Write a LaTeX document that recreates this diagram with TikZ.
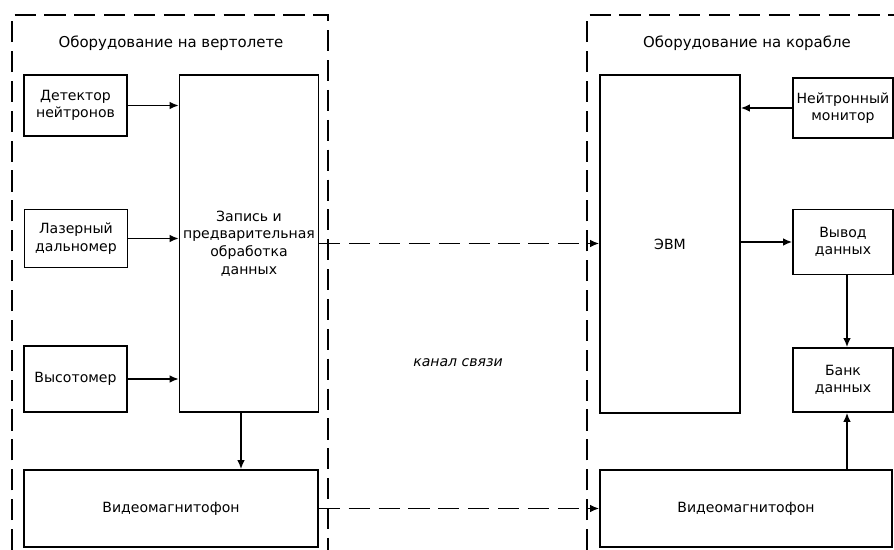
\documentclass[tikz,border=0pt]{standalone}
\usepackage{fontspec}
\setmainfont{DejaVu Sans}
\usepackage{tikz}
\usetikzlibrary{arrows.meta,positioning,calc}

\begin{document}
\begin{tikzpicture}[
  x=0.02cm,y=-0.02cm,
  every node/.style={font=\fontsize{8}{10}\selectfont},
  >={Latex[length=1.8mm,width=1.5mm]},
  block/.style={draw,line width=1pt,align=center,inner sep=2pt},
  unit/.style={block,minimum width=2.06cm},
  side/.style={block,minimum width=2.0cm},
  title/.style={font=\fontsize{8.5}{10}\selectfont},
  frame/.style={line width=0.8pt,dash pattern=on 12pt off 5pt},
  link/.style={->,line width=0.8pt},
  chan/.style={->,line width=0.8pt,dash pattern=on 12pt off 5pt}
]
\useasboundingbox (0,0) rectangle (894,550);

\draw[frame] (12,550) -- (12,15) -- (328,15) -- (328,550);
\draw[frame] (587,550) -- (587,15) -- (894,15);

\node[title] (TL) at (171,43) {Оборудование на вертолете};
\node[title] (TR) at (747,43) {Оборудование на корабле};

\node[unit,minimum height=1.22cm] (DET) at (75.5,105.5) {Детектор\\нейтронов};
\node[unit,minimum height=1.16cm] (LAS) at (76,238.5)   {Лазерный\\дальномер};
\node[unit,minimum height=1.32cm] (ALT) at (75.5,379)   {Высотомер};
\node[block,minimum width=2.76cm,minimum height=6.74cm] (REC) at (249,243.5)
  {Запись и\\предварительная\\обработка\\данных};
\node[block,minimum width=5.88cm,minimum height=1.54cm] (VL) at (171,508.5) {Видеомагнитофон};

\node[block,minimum width=2.8cm,minimum height=6.76cm] (EVM) at (670,244) {ЭВМ};
\node[side,minimum height=1.2cm]  (MON)  at (843,108) {Нейтронный\\монитор};
\node[side,minimum height=1.3cm]  (OUT)  at (843,242) {Вывод\\данных};
\node[side,minimum height=1.28cm] (BANK) at (843,380) {Банк\\данных};
\node[block,minimum width=5.84cm,minimum height=1.54cm] (VR) at (746,508.5) {Видеомагнитофон};

\node[font=\fontsize{8}{10}\selectfont\itshape] (CH) at (458,363) {канал связи};

\draw[link] (DET.east) -- (DET.east -| REC.west);
\draw[link] (LAS.east) -- (LAS.east -| REC.west);
\draw[link] (ALT.east) -- (ALT.east -| REC.west);
\draw[link] ([xshift=-0.16cm]REC.south) -- ([xshift=-0.16cm]REC.south |- VL.north);
\draw[link] (MON.west) -- (MON.west -| EVM.east);
\draw[link] (OUT.west -| EVM.east) -- (OUT.west);
\draw[link] ([xshift=0.08cm]OUT.south) -- ([xshift=0.08cm]BANK.north);
\draw[link] ([xshift=0.08cm]BANK.south |- VR.north) -- ([xshift=0.08cm]BANK.south);
\draw[chan] (REC.east) -- (REC.east -| EVM.west);
\draw[chan] (VL.east) -- (VR.west);
\end{tikzpicture}
\end{document}
